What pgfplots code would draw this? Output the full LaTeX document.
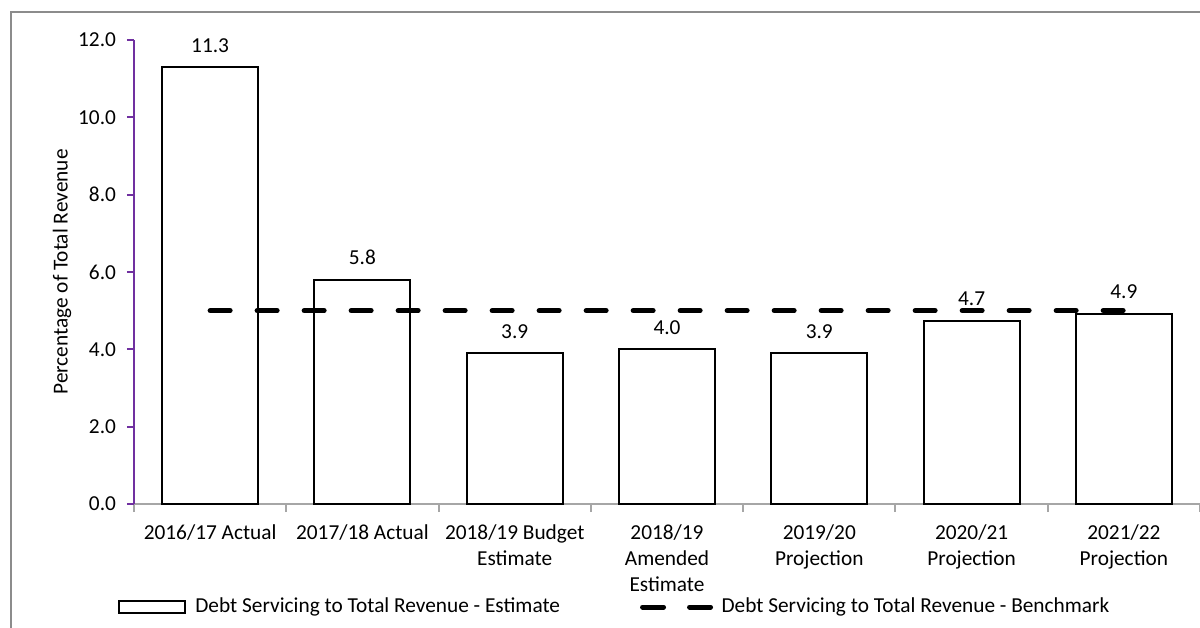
\documentclass[border=0pt]{standalone}
\usepackage{fontspec}
\setmainfont{Carlito}
\usepackage{pgfplots}
\pgfplotsset{compat=1.18}
\definecolor{axpurple}{HTML}{7030A0}
\definecolor{axgray}{HTML}{A6A6A6}
\definecolor{framegray}{HTML}{8C8C8C}
\begin{document}
\begin{tikzpicture}[font=\fontsize{10.7}{13}\selectfont]
\path[use as bounding box] (0,0) rectangle (600bp,314bp);
\draw[framegray, line width=0.8bp] (5.5bp,0) -- (5.5bp,308bp) -- (600bp,308bp);
\begin{axis}[
  at={(67bp,62bp)}, anchor=south west,
  scale only axis, width=533bp, height=232bp,
  xmin=-0.5, xmax=6.5, ymin=0, ymax=12,
  axis x line*=bottom, axis y line*=left,
  x axis line style={axgray, line width=1bp},
  y axis line style={axpurple, line width=1bp},
  tick align=outside,
  xtick={0,...,6},
  xticklabels={{2016/17 Actual},{2017/18 Actual},{2018/19 Budget\\Estimate},{2018/19\\Amended\\Estimate},{2019/20\\Projection},{2020/21\\Projection},{2021/22\\Projection}},
  major x tick style={draw=none},
  minor xtick={-0.5,0.5,...,6.5},
  minor x tick style={axgray, line width=1bp},
  minor tick length=4bp,
  ytick={0,2,...,12},
  y tick style={axpurple, line width=1bp},
  major tick length=3.5bp,
  /pgf/number format/assume math mode=true,
  yticklabel style={xshift=-2bp, /pgf/number format/fixed, /pgf/number format/fixed zerofill, /pgf/number format/precision=1},
  xticklabel style={align=center, anchor=north, yshift=-3.5bp},
  ylabel={Percentage of Total Revenue},
  ylabel style={at={(axis description cs:-0.0675,0.5)}, anchor=center},
  legend columns=2,
  legend cell align=left,
  legend style={draw=none, fill=none, at={(axis description cs:0.452,-0.222)}, anchor=center,
    /tikz/every even column/.append style={column sep=38bp}},
  clip=false,
]
\addplot[ybar, bar width=0.63, draw=black, fill=white, line width=1bp,
  nodes near coords,
  every node near coord/.append style={black, yshift=3.5bp, /pgf/number format/fixed, /pgf/number format/fixed zerofill, /pgf/number format/precision=1},
  legend image code/.code={\draw[black, line width=1bp, fill=white] (0bp,-3bp) rectangle (33bp,3bp); \path (35.5bp,0bp);}]
  coordinates {(0,11.3)(1,5.8)(2,3.9)(3,4.0)(4,3.9)(5,4.74)(6,4.92)};
\addlegendentry{Debt Servicing to Total Revenue - Estimate}
\addplot[black, line width=2.5bp, line cap=round, dash pattern=on 10bp off 13.5bp,
  legend image code/.code={\draw[black, line width=2.5bp, line cap=round, dash pattern=on 10.5bp off 13bp] (1.25bp,0bp) -- (35.25bp,0bp); \path (37.5bp,0bp);}]
  coordinates {(0,5)(6,5)};
\addlegendentry{Debt Servicing to Total Revenue - Benchmark}
\end{axis}
\end{tikzpicture}
\end{document}
